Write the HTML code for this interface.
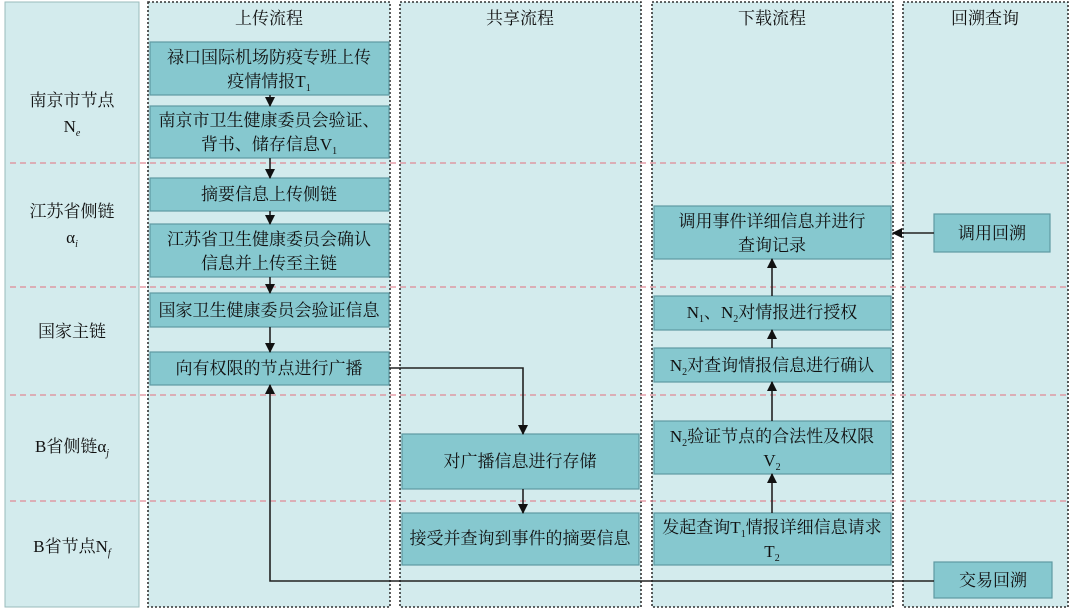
<!DOCTYPE html>
<html><head><meta charset="utf-8"><style>
html,body{margin:0;padding:0;background:#fff;}
svg{display:block;}
text{font-family:"Liberation Serif","Noto Serif CJK SC","Noto Sans CJK SC",serif;font-size:17px;fill:#111;text-anchor:middle;}
.sub{font-size:10px;}
.b{fill:#86c8cf;stroke:#5f9aa3;stroke-width:1.2;}
.lane{fill:#d3ebed;stroke:#333;stroke-width:1.6;stroke-dasharray:2 2;}
.pink{stroke:#e08a96;stroke-width:1.2;stroke-dasharray:6 4;}
.ln{stroke:#222;stroke-width:1.6;fill:none;}
</style></head><body>
<svg width="1080" height="612" viewBox="0 0 1080 612" xmlns="http://www.w3.org/2000/svg">
<defs><marker id="a" markerWidth="10" markerHeight="10" refX="9" refY="5" orient="auto" markerUnits="userSpaceOnUse"><path d="M0,0 L10,5 L0,10 z" fill="#111"/></marker></defs>
<rect x="5" y="2" width="134" height="605" fill="#d3ebed" stroke="#9bb" stroke-width="1"/>
<rect class="lane" x="148" y="2" width="242" height="605"/>
<rect class="lane" x="400" y="2" width="241" height="605"/>
<rect class="lane" x="652" y="2" width="241" height="605"/>
<rect class="lane" x="903" y="2" width="165" height="605"/>
<text x="269" y="24">上传流程</text><text x="520" y="24">共享流程</text><text x="772" y="24">下载流程</text><text x="985" y="24">回溯查询</text>
<line class="pink" x1="10" y1="163" x2="1068" y2="163"/>
<line class="pink" x1="10" y1="287" x2="1068" y2="287"/>
<line class="pink" x1="10" y1="395" x2="1068" y2="395"/>
<line class="pink" x1="10" y1="501" x2="1068" y2="501"/>
<text x="72" y="106">南京市节点</text><text x="72" y="132">N<tspan class="sub" dy="4" font-style="italic">e</tspan></text>
<text x="72" y="217">江苏省侧链</text><text x="72" y="243">α<tspan class="sub" dy="4" font-style="italic">i</tspan></text>
<text x="72" y="337">国家主链</text>
<text x="72" y="452">B省侧链α<tspan class="sub" dy="4" font-style="italic">j</tspan></text>
<text x="72" y="552">B省节点N<tspan class="sub" dy="4" font-style="italic">f</tspan></text>
<rect class="b" x="150" y="42" width="239" height="53"/><text x="269" y="63">禄口国际机场防疫专班上传</text><text x="269" y="87">疫情情报T<tspan class="sub" dy="4">1</tspan></text>
<rect class="b" x="150" y="106" width="239" height="52"/><text x="269" y="126">南京市卫生健康委员会验证、</text><text x="269" y="150">背书、储存信息V<tspan class="sub" dy="4">1</tspan></text>
<rect class="b" x="150" y="178" width="239" height="33"/><text x="269" y="200">摘要信息上传侧链</text>
<rect class="b" x="150" y="224" width="239" height="53"/><text x="269" y="245">江苏省卫生健康委员会确认</text><text x="269" y="269">信息并上传至主链</text>
<rect class="b" x="150" y="293" width="239" height="34"/><text x="269" y="316">国家卫生健康委员会验证信息</text>
<rect class="b" x="150" y="352" width="239" height="33"/><text x="269" y="374">向有权限的节点进行广播</text>
<line class="ln" x1="270" y1="95" x2="270" y2="106" marker-end="url(#a)"/>
<line class="ln" x1="270" y1="158" x2="270" y2="178" marker-end="url(#a)"/>
<line class="ln" x1="270" y1="211" x2="270" y2="224" marker-end="url(#a)"/>
<line class="ln" x1="270" y1="277" x2="270" y2="293" marker-end="url(#a)"/>
<line class="ln" x1="270" y1="327" x2="270" y2="352" marker-end="url(#a)"/>
<rect class="b" x="402" y="434" width="237" height="55"/><text x="520" y="467">对广播信息进行存储</text>
<rect class="b" x="402" y="513" width="237" height="52"/><text x="520" y="544">接受并查询到事件的摘要信息</text>
<polyline class="ln" points="389,368 523,368 523,434" marker-end="url(#a)"/>
<line class="ln" x1="523" y1="489" x2="523" y2="513" marker-end="url(#a)"/>
<rect class="b" x="654" y="206" width="237" height="53"/><text x="772" y="227">调用事件详细信息并进行</text><text x="772" y="251">查询记录</text>
<rect class="b" x="654" y="296" width="237" height="34"/><text x="772" y="318">N<tspan class="sub" dy="4">1</tspan><tspan dy="-4">、N</tspan><tspan class="sub" dy="4">2</tspan><tspan dy="-4">对情报进行授权</tspan></text>
<rect class="b" x="654" y="348" width="237" height="34"/><text x="772" y="371">N<tspan class="sub" dy="4">2</tspan><tspan dy="-4">对查询情报信息进行确认</tspan></text>
<rect class="b" x="654" y="421" width="237" height="53"/><text x="772" y="442">N<tspan class="sub" dy="4">2</tspan><tspan dy="-4">验证节点的合法性及权限</tspan></text><text x="772" y="466">V<tspan class="sub" dy="4">2</tspan></text>
<rect class="b" x="654" y="513" width="237" height="52"/><text x="772" y="533">发起查询T<tspan class="sub" dy="4">1</tspan><tspan dy="-4">情报详细信息请求</tspan></text><text x="772" y="557">T<tspan class="sub" dy="4">2</tspan></text>
<line class="ln" x1="772" y1="513" x2="772" y2="474" marker-end="url(#a)"/>
<line class="ln" x1="772" y1="421" x2="772" y2="382" marker-end="url(#a)"/>
<line class="ln" x1="772" y1="348" x2="772" y2="330" marker-end="url(#a)"/>
<line class="ln" x1="772" y1="296" x2="772" y2="259" marker-end="url(#a)"/>
<rect class="b" x="934" y="214" width="116" height="38"/><text x="992" y="239">调用回溯</text>
<rect class="b" x="934" y="562" width="118" height="36"/><text x="993" y="586">交易回溯</text>
<line class="ln" x1="934" y1="233" x2="893" y2="233" marker-end="url(#a)"/>
<polyline class="ln" points="934,581 270,581 270,385" marker-end="url(#a)"/>
</svg>
</body></html>
